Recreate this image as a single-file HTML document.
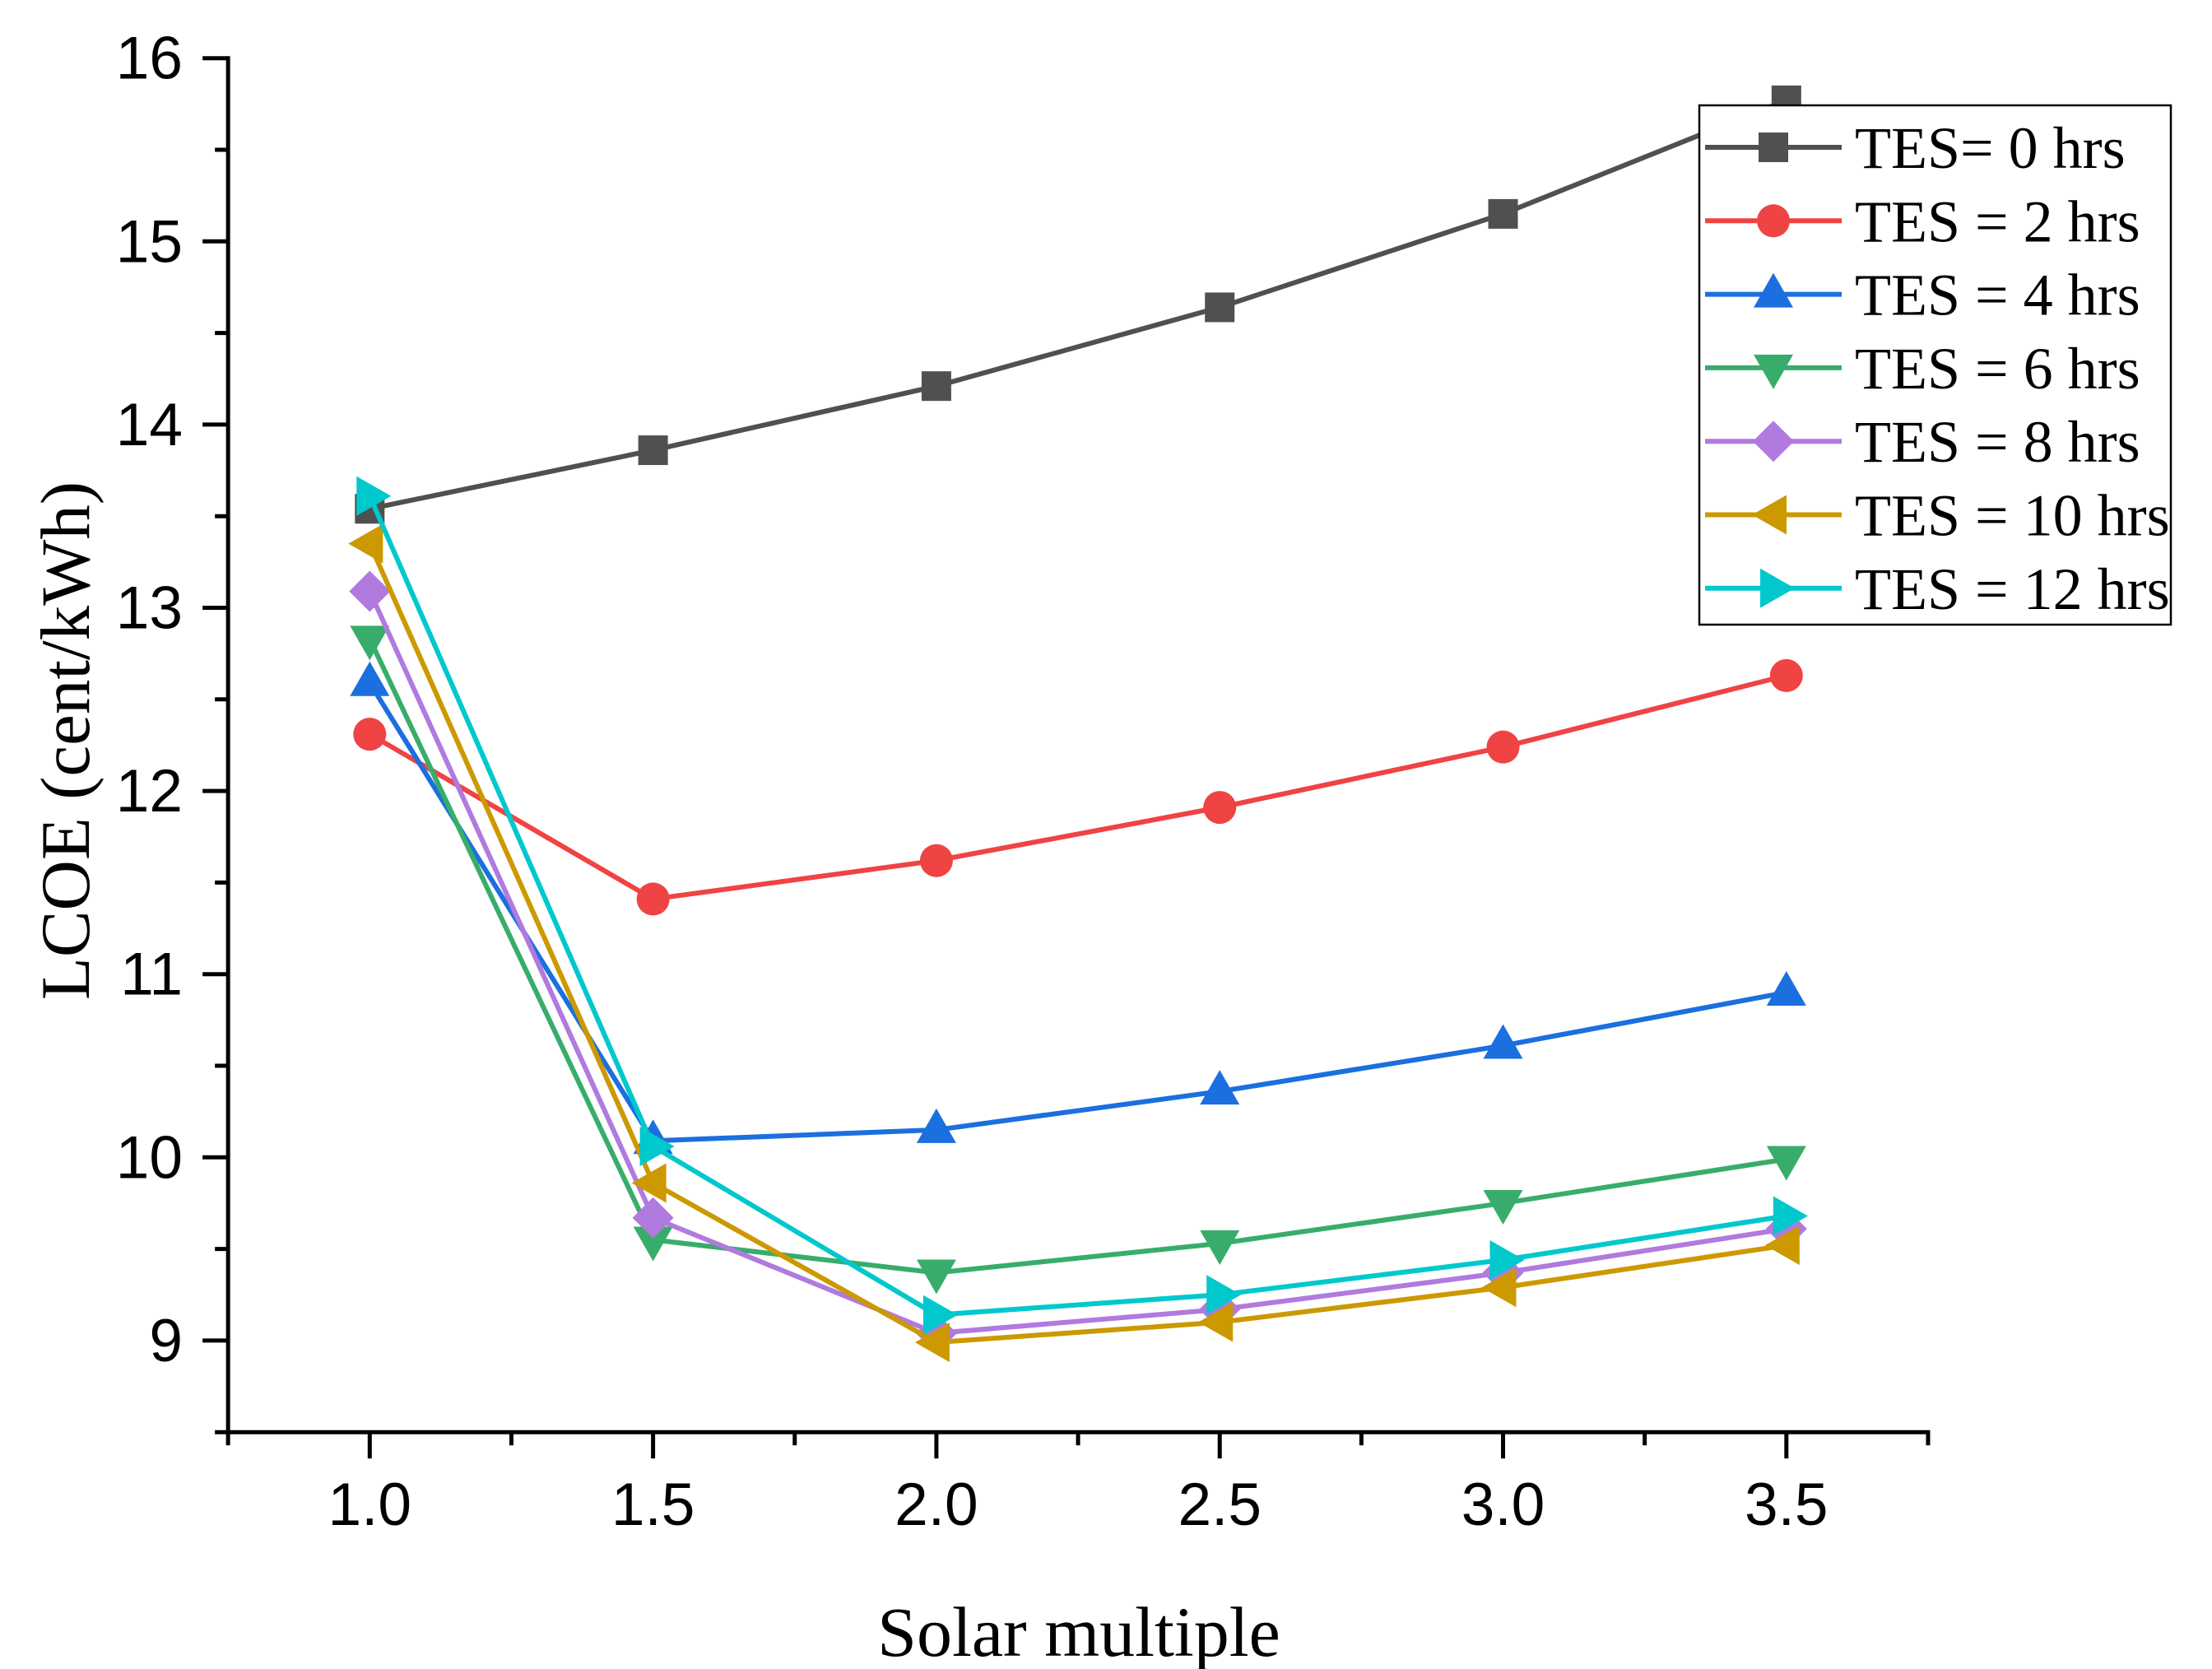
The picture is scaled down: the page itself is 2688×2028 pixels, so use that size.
<!DOCTYPE html>
<html><head><meta charset="utf-8"><style>
html,body{margin:0;padding:0;background:#fff;}
svg{display:block;}
</style></head><body>
<svg id="chart" width="2688" height="2028" viewBox="0 0 2688 2028" xmlns="http://www.w3.org/2000/svg">
<rect width="2688" height="2028" fill="#fff"/>
<g id="axes"></g>
<g id="series"></g>
<g id="legend"></g>
<text transform="translate(108,900) rotate(-90)" text-anchor="middle" font-family="Liberation Serif, serif" font-size="85">LCOE (cent/kWh)</text>
<text x="1311" y="2012" text-anchor="middle" font-family="Liberation Serif, serif" font-size="86">Solar multiple</text>
</svg>
<script>
const categories = [1.0, 1.5, 2.0, 2.5, 3.0, 3.5];
const seriesNames = ["TES= 0 hrs","TES = 2 hrs","TES = 4 hrs","TES = 6 hrs","TES = 8 hrs","TES = 10 hrs","TES = 12 hrs"];
const tes0 = [13.54, 13.86, 14.21, 14.64, 15.15, 15.77];
const tes2 = [12.31, 11.41, 11.62, 11.91, 12.24, 12.63];
const tes4 = [12.59, 10.09, 10.15, 10.36, 10.61, 10.90];
const tes6 = [12.83, 9.55, 9.37, 9.53, 9.75, 9.99];
const tes8 = [13.09, 9.67, 9.04, 9.17, 9.37, 9.61];
const tes10 = [13.35, 9.86, 8.99, 9.10, 9.29, 9.52];
const tes12 = [13.61, 10.06, 9.14, 9.25, 9.44, 9.68];
const yTicks = [9, 10, 11, 12, 13, 14, 15, 16];
const xTicks = [1.0, 1.5, 2.0, 2.5, 3.0, 3.5];
const xTickLabels = ["1.0","1.5","2.0","2.5","3.0","3.5"];

const NS = "http://www.w3.org/2000/svg";
const X0 = 449.3, XU = 688.6, Y0 = 70.7, YU = 222.6;
function xs(v){ return X0 + (v - 1.0) * XU; }
function ys(v){ return Y0 + (16 - v) * YU; }
function mk(tag, attrs, parent){ const e = document.createElementNS(NS, tag); for (const k in attrs) e.setAttribute(k, attrs[k]); parent.appendChild(e); return e; }

const axes = document.getElementById('axes');
const plotL = xs(0.75), plotR = xs(3.75), plotT = ys(16), plotB = ys(8.5);
let el;
el = mk('line', {x1:plotL, y1:plotT-2.5, x2:plotL, y2:plotB+2.5, stroke:'#000','stroke-width':5}, axes);


el = mk('line', {x1:plotL-2.5, y1:plotB, x2:plotR+2.5, y2:plotB, stroke:'#000','stroke-width':5}, axes);


for (let v = 8.5; v <= 16.001; v += 0.5) {
  const major = Math.abs(v - Math.round(v)) < 0.01;
  el = mk('line', {x1:plotL - (major ? 31 : 16), y1:ys(v), x2:plotL, y2:ys(v), stroke:'#000','stroke-width':5}, axes);
  
  
}
yTicks.forEach(v => {
  const t = mk('text', {x:222, y:ys(v)+25, 'text-anchor':'end','font-family':'Liberation Sans, sans-serif','font-size':73}, axes);
  t.textContent = String(v);
  
  
});
for (let v = 0.75; v <= 3.751; v += 0.25) {
  const major = xTicks.some(t => Math.abs(t - v) < 0.01);
  el = mk('line', {x1:xs(v), y1:plotB, x2:xs(v), y2:plotB + (major ? 32 : 16), stroke:'#000','stroke-width':5}, axes);
  
  
}
xTicks.forEach((v, i) => {
  const t = mk('text', {x:xs(v), y:1853, 'text-anchor':'middle','font-family':'Liberation Sans, sans-serif','font-size':73}, axes);
  t.textContent = xTickLabels[i];
  
  
});

const colors = ['#505050','#f04343','#1b6fdf','#38ad6b','#b07ade','#cc9900','#00c8cc'];
const shapes = ['square','circle','up','down','diamond','left','right'];
const allSeries = [tes0, tes2, tes4, tes6, tes8, tes10, tes12];

function marker(shape, cx, cy, color, parent){
  let e;
  if (shape === 'square') e = mk('rect', {x:cx-18, y:cy-18, width:36, height:36, fill:color}, parent);
  else if (shape === 'circle') e = mk('circle', {cx:cx, cy:cy, r:20, fill:color}, parent);
  else {
    let p;
    if (shape === 'up') p = [[cx,cy-26],[cx+24,cy+16],[cx-24,cy+16]];
    else if (shape === 'down') p = [[cx,cy+26],[cx+24,cy-16],[cx-24,cy-16]];
    else if (shape === 'left') p = [[cx-26,cy],[cx+16,cy-24],[cx+16,cy+24]];
    else if (shape === 'right') p = [[cx+26,cy],[cx-16,cy-24],[cx-16,cy+24]];
    else p = [[cx,cy-25],[cx+25,cy],[cx,cy+25],[cx-25,cy]];
    e = mk('polygon', {points:p.map(q=>q.join(',')).join(' '), fill:color}, parent);
  }
  return e;
}

const sg = document.getElementById('series');
allSeries.forEach((vals, si) => {
  const g = mk('g', {}, sg);
  
  
  const pl = mk('polyline', {points: categories.map((c,i)=>xs(c)+','+ys(vals[i])).join(' '), fill:'none', stroke:colors[si], 'stroke-width':6, 'stroke-linejoin':'round'}, g);
  
  
  categories.forEach((c, i) => {
    const m = marker(shapes[si], xs(c), ys(vals[i]), colors[si], g);
    
    
  });
});

const lg = document.getElementById('legend');
el = mk('rect', {x:2065, y:128, width:573, height:631, fill:'#fff', stroke:'#000', 'stroke-width':2.5}, lg);


seriesNames.forEach((name, i) => {
  const cy = 179 + i * 89.3;
  const g = mk('g', {}, lg);
  
  
  mk('line', {x1:2072, y1:cy, x2:2238, y2:cy, stroke:colors[i], 'stroke-width':6}, g);
  marker(shapes[i], 2155, cy, colors[i], g);
  const t = mk('text', {x:2254, y:cy+25, 'font-family':'Liberation Serif, serif', 'font-size':72}, g);
  t.textContent = name;
  
  
});
</script>
</body></html>
